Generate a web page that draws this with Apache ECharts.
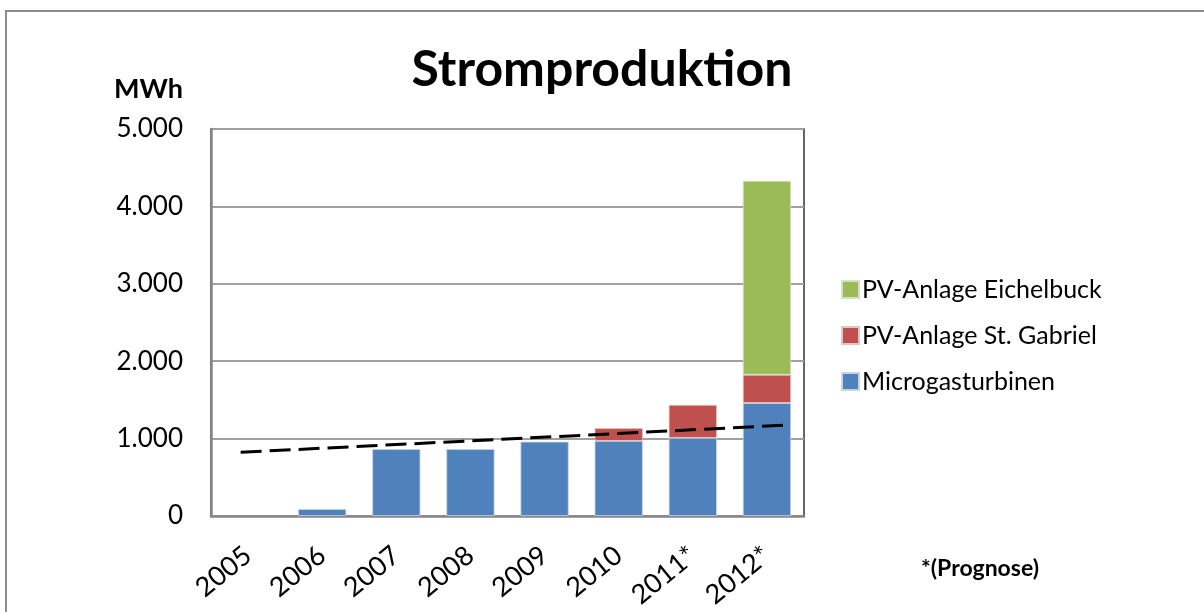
<!DOCTYPE html>
<html>
<head>
<meta charset="utf-8">
<script src="https://cdn.jsdelivr.net/npm/echarts@6/dist/echarts.min.js"></script>
<style>
html,body{margin:0;padding:0;background:#fff;}
#chart{width:1204px;height:612px;}
</style>
</head>
<body>
<div id="chart"></div>
<script>
const categories = ['2005','2006','2007','2008','2009','2010','2011*','2012*'];
const microgasturbinen = [0, 90, 865, 865, 960, 970, 1010, 1460];
const pvStGabriel = [0, 0, 0, 0, 0, 165, 425, 365];
const pvEichelbuck = [0, 0, 0, 0, 0, 0, 0, 2505];
const trendX = [0.4, 7.82];
const trendY = [823, 1177];
const yTicks = [0, 1000, 2000, 3000, 4000, 5000];

const FONT = 'Lato';
const chart = echarts.init(document.getElementById('chart'));
const fmt = v => v === 0 ? '0' : String(v).replace(/\B(?=(\d{3})+(?!\d))/g, '.');
const nz = arr => arr.map(v => v === 0 ? '-' : v);

chart.setOption({
  animation: false,
  backgroundColor: '#fff',
  title: {
    text: 'Stromproduktion',
    left: 'center',
    top: 40,
    textStyle: {fontFamily: FONT, fontWeight: 'bold', fontSize: 50, color: '#000'}
  },
  legend: {
    orient: 'vertical',
    left: 836,
    top: 272,
    itemWidth: 17,
    itemHeight: 17,
    itemGap: 21,
    data: ['PV-Anlage Eichelbuck', 'PV-Anlage St. Gabriel', 'Microgasturbinen'],
    textStyle: {fontFamily: FONT, fontSize: 25, color: '#000', padding: [0,0,0,-2]},
    icon: 'rect'
  },
  grid: {
    left: 211, top: 129, right: 400, bottom: 96,
    show: true, borderColor: '#333', borderWidth: 1.5, backgroundColor: 'transparent'
  },
  xAxis: [{
    type: 'category',
    data: categories,
    axisLine: {lineStyle: {color: '#868686', width: 2.5}},
    axisTick: {show: false},
    axisLabel: {rotate: 39, fontFamily: FONT, fontSize: 27, color: '#000', margin: 36}
  }, {
    type: 'value', min: 0, max: 8, show: false
  }],
  yAxis: {
    type: 'value',
    min: yTicks[0], max: yTicks[yTicks.length-1], interval: 1000,
    axisLine: {show: true, lineStyle: {color: '#868686', width: 2.5}},
    axisTick: {show: false},
    splitLine: {lineStyle: {color: '#a0a0a0', width: 2}},
    axisLabel: {fontFamily: FONT, fontSize: 26, color: '#000', margin: 28, formatter: fmt}
  },
  graphic: [
    {type: 'rect', silent: true, z: -1,
     shape: {x: 6, y: 11, width: 1300, height: 700},
     style: {fill: 'transparent', stroke: '#8c8c8c', lineWidth: 2}},
    {type: 'text', left: 114, top: 76,
     style: {text: 'MWh', fontFamily: FONT, fontWeight: 'bold', fontSize: 27, fill: '#000'}},
    {type: 'text', left: 921, top: 557,
     style: {text: '*(Prognose)', fontFamily: FONT, fontWeight: 'bold', fontSize: 23, fill: '#000'}}
  ],
  series: [
    {name: 'Microgasturbinen', type: 'bar', stack: 's', data: nz(microgasturbinen), barWidth: '65%',
     itemStyle: {color: '#4F81BD', borderColor: '#c6d4e8', borderWidth: 0.8}},
    {name: 'PV-Anlage St. Gabriel', type: 'bar', stack: 's', data: nz(pvStGabriel),
     itemStyle: {color: '#C0504D', borderColor: '#e6c2c1', borderWidth: 0.8}},
    {name: 'PV-Anlage Eichelbuck', type: 'bar', stack: 's', data: nz(pvEichelbuck),
     itemStyle: {color: '#9BBB59', borderColor: '#d4e2bd', borderWidth: 0.8}},
    {name: 'Trend', type: 'line', xAxisIndex: 1, symbol: 'none', z: 5,
     data: trendX.map((x, i) => [x, trendY[i]]),
     lineStyle: {color: '#000', width: 3, type: [21, 8]}}
  ]
});
</script>
</body>
</html>
